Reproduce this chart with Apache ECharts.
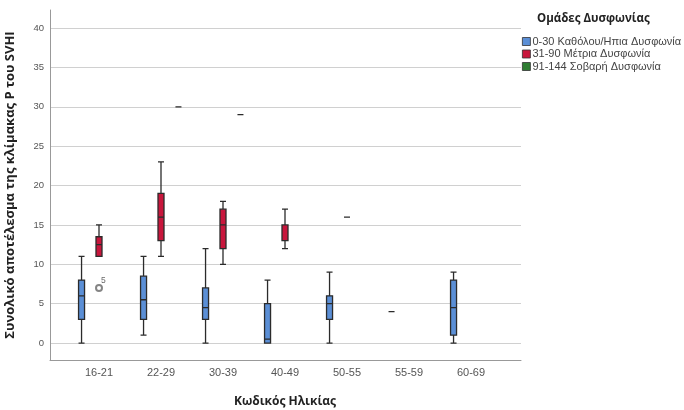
<!DOCTYPE html>
<html>
<head>
<meta charset="utf-8">
<script src="https://cdn.jsdelivr.net/npm/echarts@6/dist/echarts.min.js"></script>
<style>html,body{margin:0;padding:0;background:#fff}#c{width:684px;height:410px}</style>
</head>
<body>
<div id="c"></div>
<script>
const categories = ['16-21','22-29','30-39','40-49','50-55','55-59','60-69'];
const yTicks = [0, 5, 10, 15, 20, 25, 30, 35, 40];
// [category, min, Q1, median, Q3, max]
const mildBoxes = [
  ['16-21', 0, 3, 6, 8, 11],
  ['22-29', 1, 3, 5.5, 8.5, 11],
  ['30-39', 0, 3, 4.5, 7, 12],
  ['40-49', 0, 0, 0.5, 5, 8],
  ['50-55', 0, 3, 5, 6, 9],
  ['55-59', 4, 4, 4, 4, 4],
  ['60-69', 0, 1, 4.5, 8, 9]
];
const moderateBoxes = [
  ['16-21', 11, 11, 12.5, 13.5, 15],
  ['22-29', 11, 13, 16, 19, 23],
  ['30-39', 10, 12, 15, 17, 18],
  ['40-49', 12, 13, 15, 15, 17],
  ['50-55', 16, 16, 16, 16, 16]
];
const severeBoxes = [
  ['22-29', 30, 30, 30, 30, 30],
  ['30-39', 29, 29, 29, 29, 29]
];
const outliers = [['16-21', 7, '5']];
const seriesNames = ['0-30 Καθόλου/Ηπια Δυσφωνία', '31-90 Μέτρια Δυσφωνία', '91-144 Σοβαρή Δυσφωνία'];
const seriesColors = ['#5b8fd6', '#c8163c', '#2e7d32'];

const chart = echarts.init(document.getElementById('c'), null, {renderer: 'canvas'});
const yMin = -2.15, yMax = 42.3;
const fontTick = 'Liberation Sans, Arial, sans-serif';
const fontTitle = 'Open Sans, Noto Sans, sans-serif';

function boxSeries(name, data, color) {
  return {
    type: 'boxplot', name: name, xAxisIndex: 1, yAxisIndex: 1,
    data: data, encode: {x: 0, y: [1, 2, 3, 4, 5]},
    boxWidth: [6, 6],
    itemStyle: {color: color, borderColor: '#2b2b2b', borderWidth: 1.3},
    emphasis: {disabled: true}
  };
}

chart.setOption({
  animation: false,
  grid: [
    {left: 50, right: 163, top: 10, bottom: 50, outerBoundsMode: 'none', containLabel: false},
    {left: 68, right: 182, top: 10, bottom: 50, outerBoundsMode: 'none', containLabel: false}
  ],
  xAxis: [
    {gridIndex: 0, type: 'value', min: 0, max: 1,
     axisLine: {show: true, onZero: false, lineStyle: {color: '#999', width: 1}},
     axisTick: {show: false}, axisLabel: {show: false}, splitLine: {show: false}},
    {gridIndex: 1, type: 'category', data: categories,
     axisLine: {show: false}, axisTick: {show: false},
     axisLabel: {fontSize: 11, color: '#555', margin: 7, fontFamily: fontTick},
     name: 'Κωδικός Ηλικίας', nameLocation: 'middle', nameGap: 36,
     nameTextStyle: {fontSize: 12, fontWeight: 'bold', color: '#222', fontFamily: fontTitle}}
  ],
  yAxis: [
    {gridIndex: 0, type: 'value', min: yMin, max: yMax,
     axisLine: {show: true, lineStyle: {color: '#999', width: 1}},
     axisTick: {show: false, customValues: yTicks},
     axisLabel: {customValues: yTicks, fontSize: 9.5, color: '#555', margin: 6, fontFamily: fontTick},
     splitLine: {show: true, lineStyle: {color: '#d0d0d0', width: 1.2}},
     name: 'Συνολικό αποτέλεσμα της κλίμακας P του SVHI', nameLocation: 'middle', nameGap: 33,
     nameRotate: 90, nameMoveOverlap: false,
     nameTextStyle: {fontSize: 13, fontWeight: 'bold', color: '#222', fontFamily: fontTitle}},
    {gridIndex: 1, type: 'value', min: yMin, max: yMax, show: false, splitLine: {show: false}}
  ],
  legend: {
    data: seriesNames.map(function (n, i) {
      return {name: n, itemStyle: {color: seriesColors[i], borderColor: '#333', borderWidth: 0.8}};
    }),
    orient: 'vertical', left: 517, top: 31,
    itemWidth: 8, itemHeight: 8, itemGap: 1.5, icon: 'rect',
    textStyle: {fontSize: 11, color: '#444', fontFamily: fontTick, padding: [0, 0, 0, -3]},
    selectedMode: false
  },
  graphic: [
    {type: 'text', left: 537, top: 13,
     style: {text: 'Ομάδες Δυσφωνίας', fontSize: 11.5, fontWeight: 'bold', fill: '#222', fontFamily: fontTitle}}
  ],
  series: [
    boxSeries(seriesNames[0], mildBoxes, seriesColors[0]),
    boxSeries(seriesNames[1], moderateBoxes, seriesColors[1]),
    boxSeries(seriesNames[2], severeBoxes, seriesColors[2]),
    {type: 'scatter', name: 'outlier', xAxisIndex: 1, yAxisIndex: 1,
     data: outliers, encode: {x: 0, y: 1},
     symbol: 'emptyCircle', symbolSize: 6,
     itemStyle: {color: '#666', borderWidth: 1},
     label: {show: true, formatter: function (p) { return p.data[2]; }, position: [6, -8], fontSize: 8.5, color: '#444', fontFamily: fontTick},
     emphasis: {disabled: true}}
  ]
});
</script>
</body>
</html>
